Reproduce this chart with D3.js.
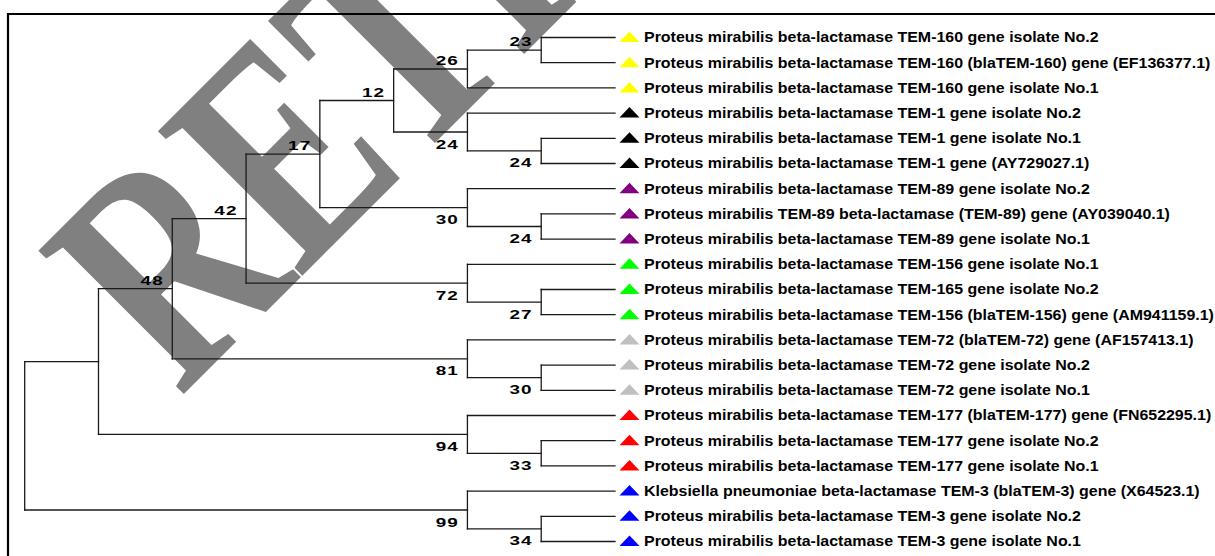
<!DOCTYPE html>
<html>
<head>
<meta charset="utf-8">
<script src="https://cdn.jsdelivr.net/npm/d3@7"></script>
<style>
  html, body { margin: 0; padding: 0; background: #fff; }
  svg { display: block; }
</style>
</head>
<body>
<svg id="chart" width="1215" height="556"></svg>
<script>
// ---- data ----
const leafNames = [
  "Proteus mirabilis beta-lactamase TEM-160 gene isolate No.2",
  "Proteus mirabilis beta-lactamase TEM-160 (blaTEM-160) gene (EF136377.1)",
  "Proteus mirabilis beta-lactamase TEM-160 gene isolate No.1",
  "Proteus mirabilis beta-lactamase TEM-1 gene isolate No.2",
  "Proteus mirabilis beta-lactamase TEM-1 gene isolate No.1",
  "Proteus mirabilis beta-lactamase TEM-1 gene (AY729027.1)",
  "Proteus mirabilis beta-lactamase TEM-89 gene isolate No.2",
  "Proteus mirabilis TEM-89 beta-lactamase (TEM-89) gene (AY039040.1)",
  "Proteus mirabilis beta-lactamase TEM-89 gene isolate No.1",
  "Proteus mirabilis beta-lactamase TEM-156 gene isolate No.1",
  "Proteus mirabilis beta-lactamase TEM-165 gene isolate No.2",
  "Proteus mirabilis beta-lactamase TEM-156 (blaTEM-156) gene (AM941159.1)",
  "Proteus mirabilis beta-lactamase TEM-72 (blaTEM-72) gene (AF157413.1)",
  "Proteus mirabilis beta-lactamase TEM-72 gene isolate No.2",
  "Proteus mirabilis beta-lactamase TEM-72 gene isolate No.1",
  "Proteus mirabilis beta-lactamase TEM-177 (blaTEM-177) gene (FN652295.1)",
  "Proteus mirabilis beta-lactamase TEM-177 gene isolate No.2",
  "Proteus mirabilis beta-lactamase TEM-177 gene isolate No.1",
  "Klebsiella pneumoniae beta-lactamase TEM-3 (blaTEM-3) gene (X64523.1)",
  "Proteus mirabilis beta-lactamase TEM-3 gene isolate No.2",
  "Proteus mirabilis beta-lactamase TEM-3 gene isolate No.1"
];
const leafGroups = [0,0,0, 1,1,1, 2,2,2, 3,3,3, 4,4,4, 5,5,5, 6,6,6];
const groupColors = ["#ffff00", "#000000", "#800080", "#00ff00", "#c0c0c0", "#ff0000", "#0000ff"];
// topology (leaf indices) with bootstrap values as node labels
const treeNewick = "((((((((0,1)23,2)26,(3,(4,5)24)24)12,(6,(7,8)24)30)17,(9,(10,11)27)72)42,(12,(13,14)30)81)48,(15,(16,17)33)94),(18,(19,20)34)99);";
const watermarkText = "RETRACTED";

// ---- parse newick ----
function parseNewick(s) {
  let i = 0;
  function node() {
    const n = {};
    if (s[i] === "(") {
      i++;
      n.children = [node()];
      while (s[i] === ",") { i++; n.children.push(node()); }
      i++; // ')'
    }
    let lab = "";
    while (i < s.length && !",();".includes(s[i])) lab += s[i++];
    if (n.children) n.support = lab || null; else n.leaf = +lab;
    return n;
  }
  return node();
}

const svg = d3.select("#chart");

// ---- watermark (under everything) ----
svg.append("text")
  .attr("transform", "translate(180,398) rotate(-45) scale(0.75,1)")
  .attr("font-family", "'Liberation Serif','Times New Roman',serif")
  .attr("font-weight", "bold")
  .attr("font-size", 312)
  .attr("fill", "#808080")
  .text(watermarkText);

// ---- frame ----
svg.append("path")
  .attr("d", "M8,556 V14 H1215")
  .attr("fill", "none")
  .attr("stroke", "#000")
  .attr("stroke-width", 2.2);

// ---- tree layout ----
const nLeaves = leafNames.length;
const root = d3.hierarchy(parseNewick(treeNewick));
d3.cluster().separation(() => 1).size([1, 1])(root);

const yScale = d3.scaleLinear().domain([0.5 / nLeaves, 1 - 0.5 / nLeaves]).range([37.5, 541.5]);
const xScale = d3.scaleLinear().domain([0, 1]).range([24.7, 615]);

const g = svg.append("g");

// elbow links
const segs = [];
root.each(d => {
  if (d.children) {
    const ys = d.children.map(c => yScale(c.x));
    segs.push([xScale(d.y), d3.min(ys), xScale(d.y), d3.max(ys)]);
  }
  if (d.parent) {
    segs.push([xScale(d.parent.y), yScale(d.x), xScale(d.y), yScale(d.x)]);
  }
});
g.selectAll("line.branch").data(segs).join("line")
  .attr("class", "branch")
  .attr("x1", s => s[0]).attr("y1", s => s[1])
  .attr("x2", s => s[2]).attr("y2", s => s[3])
  .attr("stroke", "#1a1a1a")
  .attr("stroke-width", 1.3)
  .attr("stroke-linecap", "square");

// bootstrap labels
const internal = root.descendants().filter(d => d.children && d.data.support && d.parent);
g.selectAll("text.support").data(internal).join("text")
  .attr("class", "support")
  .attr("transform", d => {
    const first = d.parent.children[0] === d;
    const x = xScale(d.y) - 8.5;
    const y = yScale(d.x) + (first ? -4 : 16.5);
    return `translate(${x},${y}) scale(1.4,1)`;
  })
  .attr("text-anchor", "end")
  .attr("font-family", "'Liberation Sans',Arial,sans-serif")
  .attr("font-weight", "bold")
  .attr("font-size", 13.5)
  .attr("letter-spacing", 0.8)
  .attr("fill", "#000")
  .text(d => d.data.support);

// leaf markers and labels
const leaves = root.leaves();
g.selectAll("path.marker").data(leaves).join("path")
  .attr("class", "marker")
  .attr("d", d => {
    const cx = 629.5, cy = yScale(d.x);
    return `M${cx - 10},${cy + 4.5} L${cx + 10},${cy + 4.5} L${cx},${cy - 6} Z`;
  })
  .attr("fill", d => groupColors[leafGroups[d.data.leaf]]);

g.selectAll("text.leaf").data(leaves).join("text")
  .attr("class", "leaf")
  .attr("transform", d => `translate(644,${yScale(d.x) + 4.8}) scale(1.14,1)`)
  .attr("font-family", "'Liberation Sans',Arial,sans-serif")
  .attr("font-weight", "bold")
  .attr("font-size", 14)
  .attr("fill", "#000")
  .text(d => leafNames[d.data.leaf]);
</script>
</body>
</html>
